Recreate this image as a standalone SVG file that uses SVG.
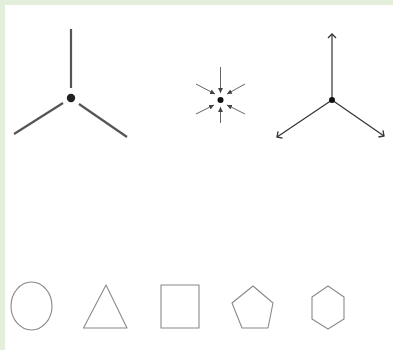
<svg xmlns="http://www.w3.org/2000/svg" width="393" height="350" viewBox="0 0 393 350">
<style>
.thick{stroke:#555;stroke-width:2.2;fill:none;stroke-linecap:butt}
.thin{stroke:#333;stroke-width:1.2;fill:none}
.arr{stroke:#555;stroke-width:0.9;fill:none}
.shape{stroke:#8a8a8a;stroke-width:1.1;fill:none;stroke-linejoin:round}
</style>
<defs>
<marker id="ah" markerWidth="6" markerHeight="6" refX="5" refY="3" orient="auto" markerUnits="userSpaceOnUse">
<path d="M0,0.5 L5,3 L0,5.5 Z" fill="#444"/>
</marker>
<marker id="open" markerWidth="10" markerHeight="10" refX="5" refY="5" orient="auto" markerUnits="userSpaceOnUse">
<path d="M1,1 L5,5 L1,9" fill="none" stroke="#333" stroke-width="1.3"/>
</marker>
</defs>
<rect x="0" y="0" width="393" height="350" fill="#ffffff"/>
<rect x="0" y="0" width="393" height="5" fill="#e3efda"/>
<rect x="0" y="0" width="5" height="350" fill="#e3efda"/>
<g id="figure-lines">
<line class="thick" x1="71" y1="29" x2="71" y2="88"/>
<line class="thick" x1="14" y1="134" x2="63" y2="103"/>
<line class="thick" x1="79" y1="104" x2="127" y2="137"/>
<circle cx="71" cy="98" r="4.2" fill="#222"/>
</g>
<g id="figure-converge">
<line class="arr" x1="220.5" y1="67" x2="220.5" y2="93" marker-end="url(#ah)"/>
<line class="arr" x1="220.5" y1="123" x2="220.5" y2="107" marker-end="url(#ah)"/>
<line class="arr" x1="196" y1="84" x2="215" y2="94" marker-end="url(#ah)"/>
<line class="arr" x1="245" y1="84" x2="227" y2="94" marker-end="url(#ah)"/>
<line class="arr" x1="196" y1="114" x2="214" y2="105" marker-end="url(#ah)"/>
<line class="arr" x1="245" y1="114" x2="227" y2="105" marker-end="url(#ah)"/>
<circle cx="220.5" cy="100" r="3" fill="#111"/>
</g>
<g id="figure-diverge">
<line class="thin" x1="332" y1="100" x2="332" y2="34" marker-end="url(#open)"/>
<line class="thin" x1="332" y1="100" x2="277" y2="137" marker-end="url(#open)"/>
<line class="thin" x1="332" y1="100" x2="384" y2="136" marker-end="url(#open)"/>
<circle cx="332" cy="100" r="3" fill="#111"/>
</g>
<g id="circle"><ellipse class="shape" cx="31.5" cy="306" rx="20.5" ry="24"/></g>
<g id="triangle"><polygon class="shape" points="106,285 83.5,328 127,328"/></g>
<g id="square"><rect class="shape" x="161" y="285" width="38" height="43"/></g>
<g id="pentagon"><polygon class="shape" points="253,286 273,303 268,328 242,328 232,303"/></g>
<g id="hexagon"><polygon class="shape" points="328,286 344,297 344,319 328,329 312,319 312,297"/></g>
</svg>
